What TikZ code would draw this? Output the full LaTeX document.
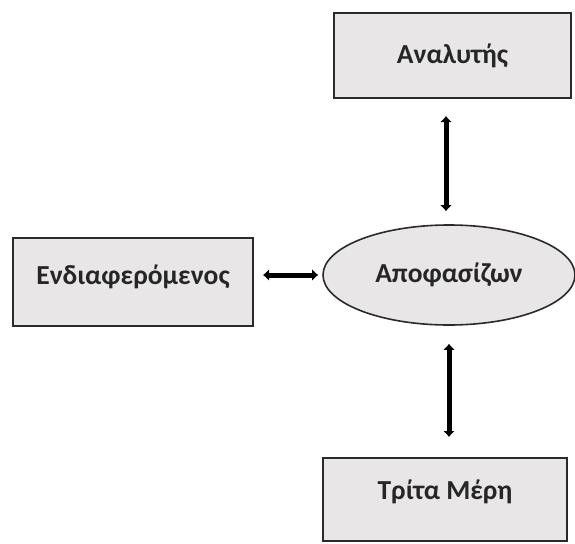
\documentclass[tikz,border=0pt]{standalone}
\usepackage{fontspec}
\setmainfont{Carlito}
\usetikzlibrary{shapes.geometric,arrows.meta}
\definecolor{boxfill}{HTML}{E8E6E6}
\definecolor{boxline}{HTML}{2A2A2A}
\begin{document}
\begin{tikzpicture}[x=1pt,y=-1pt,
  actor/.style={draw=boxline,line width=2pt,fill=boxfill,rectangle,inner sep=0pt,
    font=\bfseries\fontsize{27.5}{31}\selectfont,text=black!85},
  centre/.style={draw=boxline,line width=1.6pt,fill=boxfill,ellipse,inner sep=0pt,
    font=\bfseries\fontsize{27.5}{31}\selectfont,text=black!85},
  link/.style={line width=5pt,{Latex[length=6pt,width=12pt]}-{Latex[length=6pt,width=12pt]}}]
\useasboundingbox (0,0) rectangle (575,543);
\fill[white] (0,0) rectangle (575,543);
\node[actor,minimum width=237pt,minimum height=85pt] (ana) at (452.5,55.5) {\raisebox{1pt}{Αναλυτής}};
\node[actor,minimum width=240pt,minimum height=88pt] (end) at (133,282) {\raisebox{14pt}{Ενδιαφερόμενος}};
\node[centre,minimum width=252pt,minimum height=100pt] (apo) at (449,275) {Αποφασίζων};
\node[actor,minimum width=244pt,minimum height=83pt] (tri) at (445,499.5) {\raisebox{19pt}{Τρίτα Μέρη}};
\draw[link,shorten <=13pt,shorten >=17pt] ([xshift=-3pt]apo.north) -- ([xshift=-3pt]apo.north |- ana.south);
\draw[link,shorten <=9pt,shorten >=4pt] (end.east |- apo.west) -- (apo.west);
\draw[link,shorten <=18pt,shorten >=20pt] (apo.south) -- (apo.south |- tri.north);
\end{tikzpicture}
\end{document}
